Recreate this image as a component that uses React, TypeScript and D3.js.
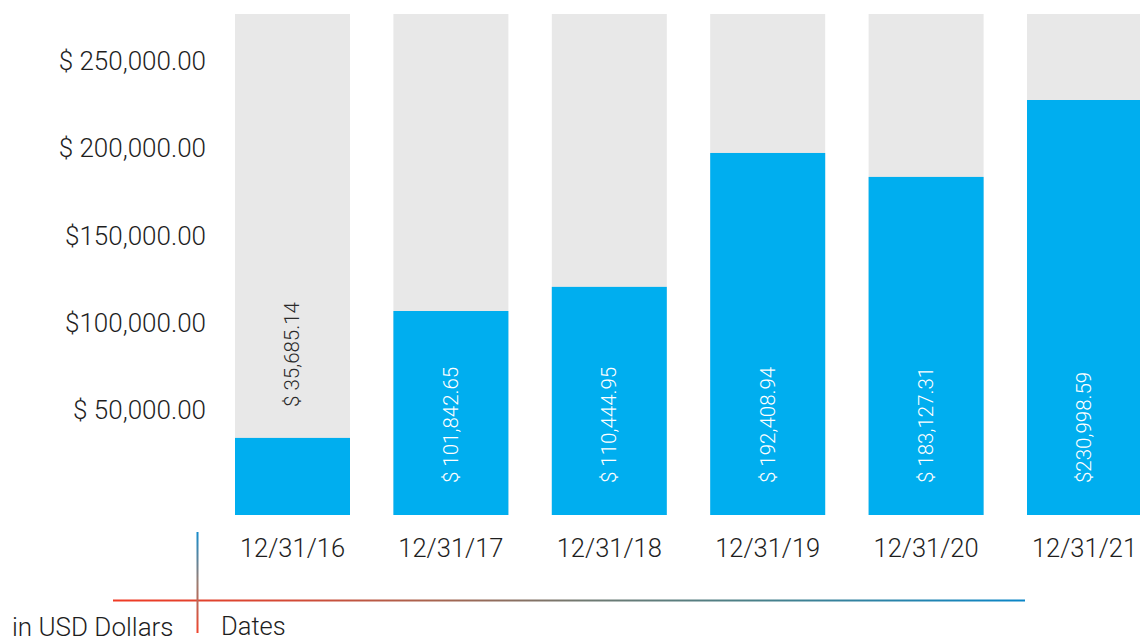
import React from "react";
import * as d3 from "d3";

const categories = ["12/31/16", "12/31/17", "12/31/18", "12/31/19", "12/31/20", "12/31/21"];
const values = [34300, 106900, 120700, 197300, 183600, 227600];
const valueLabels = ["$ 35,685.14", "$ 101,842.65", "$ 110,444.95", "$ 192,408.94", "$ 183,127.31", "$230,998.59"];
const tickValues = [50000, 100000, 150000, 200000, 250000];
const tickLabels = ["$ 50,000.00", "$100,000.00", "$150,000.00", "$ 200,000.00", "$ 250,000.00"];

const W = 1140;
const H = 641;
const FONT = "Roboto, 'Noto Sans', sans-serif";

export default function App() {
  const y = d3.scaleLinear().domain([-9800, 276800]).range([515, 14]);
  const step = 158.4;
  const pad = 0.274;
  const x = d3
    .scaleBand<string>()
    .domain(categories)
    .range([235, 235 + step * (categories.length - pad)])
    .paddingInner(pad)
    .paddingOuter(0)
    .align(0);
  const bw = x.bandwidth();
  const y0 = y.range()[0];
  const yTop = y.range()[1];

  return (
    <svg
      width={W}
      height={H}
      style={{ position: "absolute", left: 0, top: 0, display: "block" }}
    >
      <defs>
        <linearGradient id="hgrad" x1="0" x2="1" y1="0" y2="0">
          <stop offset="0%" stopColor="#f03a24" />
          <stop offset="20%" stopColor="#d24a36" />
          <stop offset="35%" stopColor="#a8644f" />
          <stop offset="52%" stopColor="#6f7a72" />
          <stop offset="70%" stopColor="#4a8088" />
          <stop offset="100%" stopColor="#0a86c8" />
        </linearGradient>
        <linearGradient id="vgrad" x1="0" x2="0" y1="0" y2="1">
          <stop offset="0%" stopColor="#158ccc" />
          <stop offset="50%" stopColor="#9a7d72" />
          <stop offset="100%" stopColor="#f0442c" />
        </linearGradient>
      </defs>
      <rect x={0} y={0} width={W} height={H} fill="#ffffff" />
      {tickValues.map((t, i) => (
        <text
          key={t}
          x={206}
          y={y(t)}
          textAnchor="end"
          dominantBaseline="central"
          fontFamily={FONT}
          fontWeight={300}
          fontSize={26}
          fill="#1e1e1e"
        >
          {tickLabels[i]}
        </text>
      ))}
      {categories.map((c, i) => {
        const bx = x(c)!;
        const cx = bx + bw / 2;
        const top = y(values[i]);
        const inside = values[i] > 60000;
        const ly = inside ? y0 - 32 : top - 31;
        return (
          <g key={c}>
            <rect x={bx} y={yTop} width={bw} height={y0 - yTop} fill="#e8e8e8" />
            <rect x={bx} y={top} width={bw} height={y0 - top} fill="#00aeef" />
            <text
              transform={`translate(${cx},${ly}) rotate(-90)`}
              textAnchor="start"
              dominantBaseline="central"
              fontFamily={FONT}
              fontWeight={300}
              fontSize={20.5}
              fill={inside ? "#ffffff" : "#2a2a2a"}
            >
              {valueLabels[i]}
            </text>
            <text
              x={cx}
              y={547.5}
              textAnchor="middle"
              dominantBaseline="central"
              fontFamily={FONT}
              fontWeight={300}
              fontSize={25.5}
              fill="#1e1e1e"
            >
              {c}
            </text>
          </g>
        );
      })}
      <rect x={113} y={599.5} width={912} height={2} fill="url(#hgrad)" />
      <rect x={196.5} y={532} width={2} height={101} fill="url(#vgrad)" />
      <text x={12} y={636} fontFamily={FONT} fontWeight={300} fontSize={26} fill="#1e1e1e">
        in USD Dollars
      </text>
      <text x={221} y={635} fontFamily={FONT} fontWeight={300} fontSize={25.5} fill="#1e1e1e">
        Dates
      </text>
    </svg>
  );
}
